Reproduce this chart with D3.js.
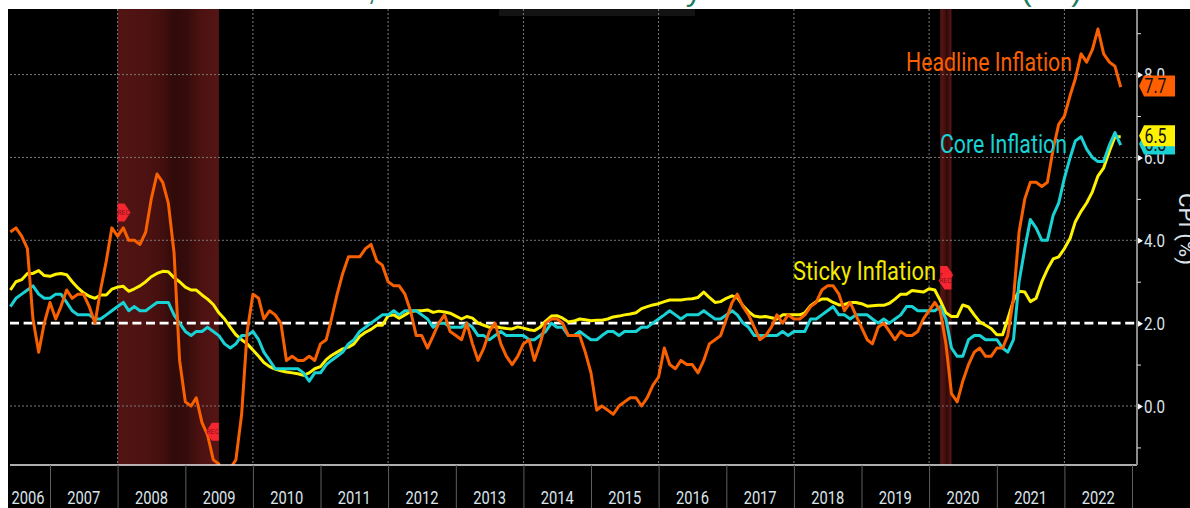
<!DOCTYPE html>
<html>
<head>
<meta charset="utf-8">
<script src="https://cdn.jsdelivr.net/npm/d3@7"></script>
<style>html,body{margin:0;padding:0;background:#fff}svg{display:block}</style>
</head>
<body>
<div id="chart"></div>
<script>
const titleText = "US Headline, Core and Sticky Inflation Index (%)";
const firstMonthEnd = Date.UTC(2006, 5, 1);
const headline = [4.2,4.3,4.1,3.8,2.1,1.3,2.0,2.5,
 2.1,2.4,2.8,2.6,2.7,2.7,2.4,2.0,2.8,3.5,4.3,4.1,
 4.3,4.0,4.0,3.9,4.2,5.0,5.6,5.4,4.9,3.7,1.1,0.1,
 0.0,0.2,-0.4,-0.7,-1.3,-1.4,-2.1,-1.5,-1.3,-0.2,1.8,2.7,
 2.6,2.1,2.3,2.2,2.0,1.1,1.2,1.1,1.1,1.2,1.1,1.5,
 1.6,2.1,2.7,3.2,3.6,3.6,3.6,3.8,3.9,3.5,3.4,3.0,
 2.9,2.9,2.7,2.3,1.7,1.7,1.4,1.7,2.0,2.2,1.8,1.7,
 1.6,2.0,1.5,1.1,1.4,1.8,2.0,1.5,1.2,1.0,1.2,1.5,
 1.6,1.1,1.5,2.0,2.1,2.1,2.0,1.7,1.7,1.7,1.3,0.8,
 -0.1,0.0,-0.1,-0.2,0.0,0.1,0.2,0.2,0.0,0.2,0.5,0.7,
 1.4,1.0,0.9,1.1,1.0,1.0,0.8,1.1,1.5,1.6,1.7,2.1,
 2.5,2.7,2.4,2.2,1.9,1.6,1.7,1.9,2.2,2.0,2.2,2.1,
 2.1,2.2,2.4,2.5,2.8,2.9,2.9,2.7,2.3,2.5,2.2,1.9,
 1.6,1.5,1.9,2.0,1.8,1.6,1.8,1.7,1.7,1.8,2.1,2.3,
 2.5,2.3,1.5,0.3,0.1,0.6,1.0,1.3,1.4,1.2,1.2,1.4,
 1.4,1.7,2.6,4.2,5.0,5.4,5.4,5.3,5.4,6.2,6.8,7.0,
 7.5,7.9,8.5,8.3,8.6,9.1,8.5,8.3,8.2,7.7];
const core = [2.4,2.6,2.7,2.8,2.9,2.7,2.6,2.6,
 2.7,2.7,2.5,2.3,2.2,2.2,2.2,2.1,2.1,2.2,2.3,2.4,
 2.5,2.3,2.4,2.3,2.3,2.4,2.5,2.5,2.5,2.2,2.0,1.8,
 1.7,1.8,1.8,1.9,1.8,1.7,1.5,1.4,1.5,1.7,1.7,1.8,
 1.6,1.3,1.1,0.9,0.9,0.9,0.9,0.9,0.8,0.6,0.8,0.8,
 1.0,1.1,1.2,1.3,1.5,1.6,1.8,1.9,2.0,2.1,2.2,2.2,
 2.3,2.2,2.3,2.3,2.3,2.2,2.1,1.9,2.0,2.0,1.9,1.9,
 1.9,2.0,1.9,1.7,1.7,1.6,1.7,1.8,1.7,1.7,1.7,1.7,
 1.6,1.6,1.7,1.8,2.0,1.9,1.9,1.7,1.7,1.8,1.7,1.6,
 1.6,1.7,1.8,1.8,1.7,1.8,1.8,1.8,1.9,1.9,2.0,2.1,
 2.2,2.3,2.2,2.1,2.2,2.2,2.2,2.3,2.2,2.1,2.1,2.2,
 2.3,2.2,2.0,1.9,1.7,1.7,1.7,1.7,1.7,1.8,1.7,1.8,
 1.8,1.8,2.1,2.1,2.2,2.3,2.4,2.2,2.2,2.1,2.2,2.2,
 2.2,2.1,2.0,2.1,2.0,2.1,2.2,2.4,2.4,2.3,2.3,2.3,
 2.3,2.4,2.1,1.4,1.2,1.2,1.6,1.7,1.7,1.6,1.6,1.6,
 1.4,1.3,1.6,3.0,3.8,4.5,4.3,4.0,4.0,4.6,4.9,5.5,
 6.0,6.4,6.5,6.2,6.0,5.9,5.9,6.3,6.6,6.3];
const sticky = [2.8,3.0,3.05,3.2,3.2,3.27,3.15,3.13,
 3.18,3.2,3.17,3.0,2.85,2.73,2.65,2.6,2.68,2.68,2.82,2.87,
 2.89,2.77,2.83,2.9,3.0,3.12,3.2,3.25,3.24,3.1,3.0,2.87,
 2.8,2.8,2.68,2.58,2.45,2.25,2.1,1.9,1.72,1.6,1.5,1.35,
 1.2,1.05,.95,.89,.85,.82,.8,.78,.74,.8,.9,.95,
 1.12,1.22,1.3,1.38,1.42,1.5,1.68,1.78,1.85,1.95,1.95,2.18,
 2.2,2.12,2.2,2.28,2.3,2.3,2.32,2.26,2.29,2.27,2.24,2.17,
 2.1,2.16,2.12,2.0,1.95,1.9,1.92,1.89,1.87,1.86,1.91,1.88,
 1.84,1.82,1.9,2.05,2.17,2.18,2.12,2.03,2.05,2.1,2.08,2.06,
 2.07,2.07,2.1,2.15,2.17,2.2,2.22,2.25,2.35,2.4,2.44,2.47,
 2.52,2.56,2.56,2.56,2.58,2.59,2.62,2.75,2.62,2.5,2.52,2.6,
 2.66,2.62,2.42,2.28,2.17,2.15,2.16,2.13,2.1,2.2,2.2,2.2,
 2.2,2.25,2.42,2.52,2.58,2.58,2.5,2.44,2.45,2.5,2.5,2.47,
 2.41,2.42,2.43,2.43,2.48,2.58,2.7,2.7,2.79,2.77,2.75,2.83,
 2.8,2.55,2.25,2.16,2.16,2.44,2.39,2.2,2.03,1.95,1.87,1.72,
 1.72,2.1,2.55,2.77,2.75,2.52,2.6,3.0,3.3,3.55,3.6,3.8,
 4.05,4.45,4.7,4.9,5.17,5.55,5.75,6.15,6.5,6.5];
const yTicksMajor = [0, 2, 4, 6, 8];
const yTicksMinor = [-1, 1, 3, 5, 7, 9];
const gridYValues = [0, 4, 6, 8];
const targetValue = 2;
const years = d3.range(2006, 2023);
const gridYears = d3.range(2008, 2023, 2);
const recessions = [[Date.UTC(2008,0,1), Date.UTC(2009,6,1)], [Date.UTC(2020,2,1), Date.UTC(2020,4,1)]];
const recMarkers = [[Date.UTC(2008,0,1),4.67,1],[Date.UTC(2009,6,1),-0.62,-1],[Date.UTC(2020,2,1),3.16,1],[Date.UTC(2020,4,1),3.03,-1]];
const lastValues = [["6.3",6.3,"#19d2d6"],["7.7",7.7,"#ff5f00"],["6.5",6.5,"#fff200"]];

const W = 1190, H = 508, L = 8, T = 9, B = 465, AX = 1137;
const font = "Roboto,'DejaVu Sans',sans-serif";
const svg = d3.select("#chart").append("svg").attr("width", W).attr("height", H);
const x = d3.scaleUtc().domain([Date.UTC(2007,0,1), Date.UTC(2023,0,1)]).range([50, 1132]);
const y = d3.scaleLinear().domain([0, 8]).range([406, 74.6]);
const dates = headline.map((_, i) => d3.utcMonth.offset(new Date(firstMonthEnd), i));

const defs = svg.append("defs");
const grad = defs.append("linearGradient").attr("id", "recGrad");
[[0,"#511413"],[0.3,"#4c1211"],[0.45,"#420f0e"],[0.55,"#300b0a"],[0.68,"#340c0b"],[0.8,"#4a1110"],[1,"#561515"]]
  .forEach(d => grad.append("stop").attr("offset", d[0]).attr("stop-color", d[1]));
defs.append("clipPath").attr("id", "plotClip").append("rect")
  .attr("x", L).attr("y", T).attr("width", AX - L).attr("height", B - T);

svg.append("text").attr("x", 125).attr("y", -0.5).attr("textLength", 957).attr("lengthAdjust", "spacing")
  .attr("font-family", "'Liberation Sans',sans-serif").attr("font-size", 32).attr("fill", "#1d7d63").text(titleText);
svg.append("rect").attr("x", L).attr("y", T).attr("width", W - L).attr("height", H - T).attr("fill", "#000");
svg.append("rect").attr("x", 499).attr("y", T).attr("width", 196).attr("height", 7).attr("fill", "#131313");

// recession bands
svg.append("g").selectAll("rect").data(recessions).join("rect")
  .attr("x", d => x(d[0])).attr("width", d => x(d[1]) - x(d[0]))
  .attr("y", T).attr("height", B - T).attr("fill", "url(#recGrad)");

// grid
const grid = svg.append("g").attr("stroke", "#7a7a7a").attr("stroke-width", 1).attr("stroke-dasharray", "2,2");
grid.selectAll("line.h").data(gridYValues).join("line").attr("class", "h")
  .attr("x1", 10).attr("x2", AX).attr("y1", d => y(d)).attr("y2", d => y(d));
grid.selectAll("line.v").data(gridYears).join("line").attr("class", "v")
  .attr("x1", d => x(Date.UTC(d,0,1))).attr("x2", d => x(Date.UTC(d,0,1))).attr("y1", T).attr("y2", B);

// target line
svg.append("line").attr("x1", 10).attr("x2", AX).attr("y1", y(targetValue)).attr("y2", y(targetValue))
  .attr("stroke", "#fff").attr("stroke-width", 2.6).attr("stroke-dasharray", "9,4.6");

// series
const line = d3.line().x((d, i) => x(dates[i])).y(d => y(d));
const plot = svg.append("g").attr("clip-path", "url(#plotClip)").attr("fill", "none").attr("stroke-linejoin", "round");
[[sticky, "#fff200"], [core, "#19d2d6"], [headline, "#f96000"]].forEach(s => {
  plot.append("path").datum(s[0]).attr("d", line).attr("stroke", s[1]).attr("stroke-width", 3);
});

// recession markers
const recG = svg.append("g").selectAll("g").data(recMarkers).join("g")
  .attr("transform", d => `translate(${x(d[0])},${y(d[1])}) scale(${d[2]},1)`);
recG.append("path").attr("d", "M0,-9 H7 L13,0 L7,9 H0 Z").attr("fill", "#f5262f");
recG.append("text").attr("transform", d => `scale(${d[2]},1)`).attr("x", d => d[2] > 0 ? 6 : -6).attr("y", 2.5)
  .attr("text-anchor", "middle").attr("font-family", font).attr("font-size", 7).attr("fill", "#8a1118").text("REC");

// bottom axis
svg.append("line").attr("x1", 10).attr("x2", AX).attr("y1", B).attr("y2", B).attr("stroke", "#e8e8e8").attr("stroke-width", 1.5);
const xAxis = d3.axisBottom(x).tickValues(d3.range(2007, 2024).map(yr => new Date(Date.UTC(yr,0,1)))).tickSize(H - B).tickFormat("");
const xg = svg.append("g").attr("transform", `translate(0,${B})`).call(xAxis);
xg.select(".domain").remove();
xg.selectAll(".tick line").attr("stroke", "#5e5e5e");
svg.append("g").selectAll("text").data(years).join("text")
  .attr("x", d => (x(Date.UTC(d,0,1)) < 10 ? 28 : (x(Date.UTC(d,0,1)) + x(Date.UTC(d+1,0,1))) / 2))
  .attr("y", 503.5).attr("text-anchor", "middle").attr("font-family", font).attr("font-size", 19)
  .attr("textLength", 33).attr("lengthAdjust", "spacingAndGlyphs")
  .attr("fill", "#dbe3ea").text(d => d);

// right axis
svg.append("line").attr("x1", AX).attr("x2", AX).attr("y1", T).attr("y2", B).attr("stroke", "#8a8a8a").attr("stroke-width", 2);
const minorAxis = d3.axisRight(y).tickValues(yTicksMinor).tickSize(4).tickFormat("");
const mg = svg.append("g").attr("transform", `translate(${AX},0)`).call(minorAxis);
mg.select(".domain").remove();
mg.selectAll(".tick line").attr("stroke", "#ddd");
const majorAxis = d3.axisRight(y).tickValues(yTicksMajor).tickSize(0).tickPadding(7).tickFormat(d3.format(".1f"));
const ag = svg.append("g").attr("transform", `translate(${AX},0)`).call(majorAxis);
ag.select(".domain").remove();
ag.selectAll(".tick text").attr("font-family", font).attr("font-size", 19).attr("fill", "#dbe3ea")
  .attr("textLength", 21).attr("lengthAdjust", "spacingAndGlyphs");
ag.selectAll(".tick").append("path").attr("d", "M1,-3 L6,0 L1,3 Z").attr("fill", "#fff");

svg.append("text").attr("transform", "translate(1179,193) rotate(90)")
  .attr("font-family", font).attr("font-size", 22).attr("fill", "#dbe3ea")
  .attr("textLength", 72).attr("lengthAdjust", "spacingAndGlyphs").text("CPI (%)");

// last value tags
const tags = svg.append("g").selectAll("g").data(lastValues).join("g")
  .attr("transform", d => `translate(1139,${y(d[1]) - 1})`);
tags.append("path").attr("d", "M0,0 L5,-10.5 H36 V10.5 H5 Z").attr("fill", d => d[2]);
tags.append("text").attr("x", 16.5).attr("y", 7).attr("text-anchor", "middle").attr("font-family", font)
  .attr("font-size", 20).attr("textLength", 22).attr("lengthAdjust", "spacingAndGlyphs")
  .attr("fill", "#111").text(d => d[0]);

// series labels
const labels = [["Headline Inflation", 906, 71, 166, "#f96000"], ["Core Inflation", 940, 153, 127, "#19d2d6"], ["Sticky Inflation", 793, 280, 143, "#f2ea00"]];
svg.append("g").selectAll("text").data(labels).join("text")
  .attr("x", d => d[1]).attr("y", d => d[2]).attr("textLength", d => d[3]).attr("lengthAdjust", "spacingAndGlyphs")
  .attr("font-family", font).attr("font-size", 25).attr("fill", d => d[4]).text(d => d[0]);
</script>
</body>
</html>
